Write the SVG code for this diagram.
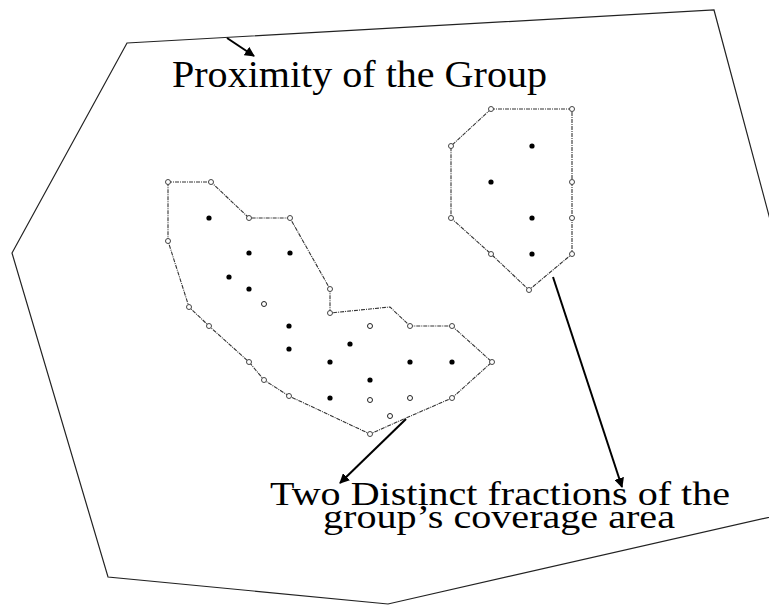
<svg xmlns="http://www.w3.org/2000/svg" width="769" height="605" viewBox="0 0 769 605">
<defs>
<style>
.outer{fill:none;stroke:#222;stroke-width:1.2}
.hull{fill:none;stroke:#333;stroke-width:1.1;stroke-dasharray:4 1 1 1}
.hp{fill:#fff;stroke:#444;stroke-width:1}
.op{fill:#fff;stroke:#222;stroke-width:1}
.fp{fill:#000}
.arr{fill:none;stroke:#000;stroke-width:2}
.lbl{font-family:"Liberation Serif","Times New Roman",serif;fill:#000}
</style>
<marker id="ah" viewBox="0 0 10 10" refX="9" refY="5" markerWidth="5" markerHeight="5" orient="auto" markerUnits="strokeWidth">
<path d="M0,0 L10,5 L0,10 z" fill="#000"/>
</marker>
</defs>
<rect width="769" height="605" fill="#fff"/>
<g id="proximity">
<polygon class="outer" points="127,43 714,10 845,500 388,604 108,577 12,253"/>
<text class="lbl" x="172" y="87" font-size="37" textLength="375" lengthAdjust="spacingAndGlyphs">Proximity of the Group</text>
</g>
<g id="fraction-left">
<polygon class="hull" points="168,182 211,182 249,218 290,218 330,289 330,313 390,307 410,326 452,326 492,362 452,398 406,418 370,434 289,396 264,380 249,362 209,326 189,307 168,241"/>
<g>
<circle class="hp" cx="168" cy="182" r="2.5"/><circle class="hp" cx="211" cy="182" r="2.5"/>
<circle class="hp" cx="249" cy="218" r="2.5"/><circle class="hp" cx="290" cy="218" r="2.5"/>
<circle class="hp" cx="330" cy="289" r="2.5"/><circle class="hp" cx="330" cy="313" r="2.5"/>
<circle class="hp" cx="410" cy="326" r="2.5"/><circle class="hp" cx="452" cy="326" r="2.5"/>
<circle class="hp" cx="492" cy="362" r="2.5"/><circle class="hp" cx="452" cy="398" r="2.5"/>
<circle class="hp" cx="370" cy="434" r="2.5"/><circle class="hp" cx="289" cy="396" r="2.5"/>
<circle class="hp" cx="264" cy="380" r="2.5"/><circle class="hp" cx="249" cy="362" r="2.5"/>
<circle class="hp" cx="209" cy="326" r="2.5"/><circle class="hp" cx="189" cy="307" r="2.5"/>
<circle class="hp" cx="168" cy="241" r="2.5"/>
</g>
<g>
<circle class="fp" cx="209" cy="218" r="2.6"/><circle class="fp" cx="249" cy="253" r="2.6"/>
<circle class="fp" cx="290" cy="253" r="2.6"/><circle class="fp" cx="229" cy="277" r="2.6"/>
<circle class="fp" cx="249" cy="289" r="2.6"/><circle class="fp" cx="289" cy="326" r="2.6"/>
<circle class="fp" cx="289" cy="349" r="2.6"/><circle class="fp" cx="350" cy="344" r="2.6"/>
<circle class="fp" cx="330" cy="362" r="2.6"/><circle class="fp" cx="370" cy="380" r="2.6"/>
<circle class="fp" cx="330" cy="398" r="2.6"/><circle class="fp" cx="410" cy="362" r="2.6"/>
<circle class="fp" cx="452" cy="362" r="2.6"/>
</g>
<g>
<circle class="op" cx="264" cy="304" r="2.5"/><circle class="op" cx="370" cy="326" r="2.5"/>
<circle class="op" cx="370" cy="400" r="2.5"/><circle class="op" cx="410" cy="398" r="2.5"/>
<circle class="op" cx="390" cy="416" r="2.5"/>
</g>
</g>
<g id="fraction-right">
<polygon class="hull" points="491,109 572,109 572,182 572,218 572,254 529,290 491,254 451,218 451,146"/>
<g>
<circle class="hp" cx="491" cy="109" r="2.5"/><circle class="hp" cx="572" cy="109" r="2.5"/>
<circle class="hp" cx="572" cy="182" r="2.5"/><circle class="hp" cx="572" cy="218" r="2.5"/>
<circle class="hp" cx="572" cy="254" r="2.5"/><circle class="hp" cx="529" cy="290" r="2.5"/>
<circle class="hp" cx="491" cy="254" r="2.5"/><circle class="hp" cx="451" cy="218" r="2.5"/>
<circle class="hp" cx="451" cy="146" r="2.5"/>
</g>
<g>
<circle class="fp" cx="532" cy="146" r="2.6"/><circle class="fp" cx="491" cy="182" r="2.6"/>
<circle class="fp" cx="532" cy="218" r="2.6"/><circle class="fp" cx="532" cy="254" r="2.6"/>
</g>
</g>
<g id="label-fractions">
<text class="lbl" x="270" y="505" font-size="33" textLength="460" lengthAdjust="spacingAndGlyphs">Two Distinct fractions of the</text>
<text class="lbl" x="323" y="528" font-size="33" textLength="352" lengthAdjust="spacingAndGlyphs">group’s coverage area</text>
</g>
<g id="connectors">
<line class="arr" x1="227" y1="38" x2="254" y2="56" marker-end="url(#ah)"/>
<line class="arr" x1="406" y1="419" x2="340" y2="483" marker-end="url(#ah)"/>
<line class="arr" x1="553" y1="277" x2="622" y2="487" marker-end="url(#ah)"/>
</g>
</svg>
